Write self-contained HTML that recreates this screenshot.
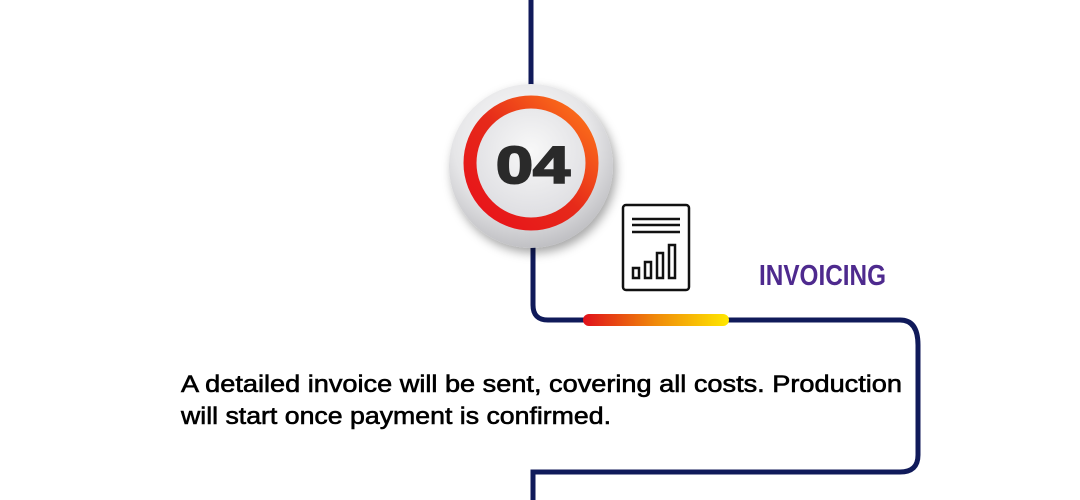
<!DOCTYPE html>
<html><head><meta charset="utf-8"><style>
html,body{margin:0;padding:0;background:#fff;width:1080px;height:500px;overflow:hidden}
</style></head><body>
<svg width="1080" height="500" viewBox="0 0 1080 500" xmlns="http://www.w3.org/2000/svg">
<defs>
<radialGradient id="bg" cx="0.45" cy="0.35" r="0.7">
<stop offset="0" stop-color="#ffffff"/><stop offset="0.6" stop-color="#e6e6e8"/><stop offset="1" stop-color="#b8b8bc"/>
</radialGradient>
<linearGradient id="ring" x1="0" y1="1" x2="1" y2="0">
<stop offset="0" stop-color="#e8101a"/><stop offset="0.5" stop-color="#e62a1a"/><stop offset="1" stop-color="#ff7a1a"/>
</linearGradient>
<linearGradient id="bar" x1="0" x2="1">
<stop offset="0" stop-color="#e0101a"/><stop offset="0.5" stop-color="#f08a0a"/><stop offset="1" stop-color="#ffe800"/>
</linearGradient>
<radialGradient id="inner" cx="0.5" cy="0.4" r="0.6">
<stop offset="0" stop-color="#f8f8f8"/><stop offset="1" stop-color="#dcdce0"/>
</radialGradient>
<filter id="sh" x="-30%" y="-30%" width="160%" height="160%"><feDropShadow dx="3" dy="5" stdDeviation="5" flood-color="#000" flood-opacity="0.35"/></filter>
</defs>
<g fill="none" stroke="#101a5a" stroke-width="5">
<path d="M531,0 V90"/>
<path d="M533,245 V305 Q533,320 548,320 H900 Q918,320 918,345 V455 Q918,472 900,472 H533 V500"/>
</g>
<rect x="583" y="314" width="146" height="12" rx="6" fill="url(#bar)"/>
<circle cx="531" cy="166" r="82" fill="url(#bg)" filter="url(#sh)"/>
<circle cx="531" cy="163" r="61" fill="url(#inner)" stroke="url(#ring)" stroke-width="13"/>
<text x="533" y="183" text-anchor="middle" font-family="Liberation Sans, sans-serif" font-weight="900" font-size="52" fill="#2a2a2a" stroke="#2a2a2a" stroke-width="2" textLength="74" lengthAdjust="spacingAndGlyphs">04</text>
<g fill="none" stroke="#111" stroke-width="2.5">
<rect x="623" y="205" width="66" height="85" rx="3"/>
<path d="M632,219 H680 M632,225 H680 M632,232 H680"/>
<rect x="633" y="268" width="6" height="10"/>
<rect x="645" y="262" width="6" height="16"/>
<rect x="657" y="253" width="6" height="25"/>
<rect x="669" y="245" width="6" height="33"/>
</g>
<text x="759" y="285" font-family="Liberation Sans, sans-serif" font-weight="bold" font-size="29" fill="#4e2a8e" textLength="127" lengthAdjust="spacingAndGlyphs">INVOICING</text>
<g font-family="Liberation Sans, sans-serif" font-size="24" fill="#000" stroke="#000" stroke-width="0.6">
<text x="181" y="392" textLength="721" lengthAdjust="spacingAndGlyphs">A detailed invoice will be sent, covering all costs. Production</text>
<text x="181" y="424" textLength="430" lengthAdjust="spacingAndGlyphs">will start once payment is confirmed.</text>
</g>
</svg>
</body></html>
